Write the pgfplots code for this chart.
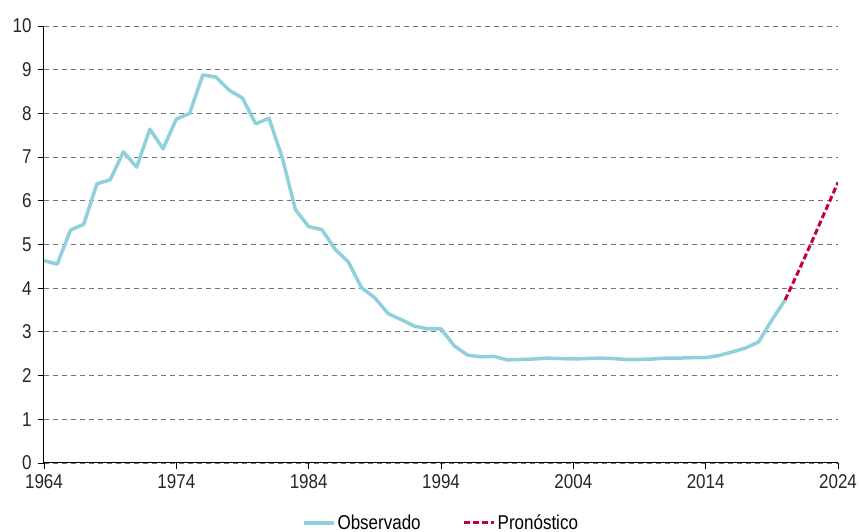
\documentclass[border=0pt]{standalone}
\usepackage{pgfplots}
\pgfplotsset{compat=1.18}
\usetikzlibrary{calc}
\usepackage{fontspec}
\setmainfont[FakeStretch=0.85]{Liberation Sans}
\definecolor{obs}{RGB}{143,209,219}
\definecolor{pron}{RGB}{196,0,58}
\newcommand\lbl{\fontsize{20bp}{23bp}\selectfont}
\begin{document}
\begin{tikzpicture}
\begin{axis}[
  scale only axis, width=794bp, height=437bp,
  xmin=1964, xmax=2024, ymin=0, ymax=10,
  xtick={1964,1974,...,2024}, ytick={0,1,...,10},
  axis x line=bottom, axis y line=left,
  axis line style={-, black, line width=1bp},
  tick align=outside, major tick length=6bp,
  tick style={black, line width=0.9bp},
  ymajorgrids,
  major grid style={gray!90!black, line width=0.9bp, dash pattern=on 5bp off 4bp},
  /pgf/number format/1000 sep={},
  /pgf/number format/assume math mode=true,
  ticklabel style={font=\lbl, text=black!85},
  yticklabel style={xshift=-3bp},
  xticklabel style={yshift=-2bp},
  legend columns=2,
  legend style={draw=none, at={(0.5,-0.137)}, anchor=center, font=\lbl,
    /tikz/every even column/.append style={column sep=40bp}},
  legend image code/.code={\draw[#1] (0bp,0bp) -- (30bp,0bp);},
]
\addplot[obs, line width=3.5bp, line join=round] coordinates {
(1964,4.63)(1965,4.55)(1966,5.33)(1967,5.46)(1968,6.39)(1969,6.48)(1970,7.12)
(1971,6.77)(1972,7.64)(1973,7.19)(1974,7.87)(1975,8.00)(1976,8.88)(1977,8.83)
(1978,8.53)(1979,8.35)(1980,7.76)(1981,7.89)(1982,6.99)(1983,5.80)(1984,5.41)
(1985,5.34)(1986,4.89)(1987,4.60)(1988,4.01)(1989,3.78)(1990,3.42)(1991,3.28)
(1992,3.13)(1993,3.07)(1994,3.07)(1995,2.68)(1996,2.47)(1997,2.43)(1998,2.44)
(1999,2.36)(2000,2.37)(2001,2.38)(2002,2.40)(2003,2.39)(2004,2.38)(2005,2.39)
(2006,2.40)(2007,2.39)(2008,2.37)(2009,2.37)(2010,2.38)(2011,2.40)(2012,2.40)
(2013,2.41)(2014,2.41)(2015,2.46)(2016,2.54)(2017,2.63)(2018,2.77)(2019,3.27)
(2020,3.73)};
\addlegendentry{Observado}
\addplot[pron, line width=3bp, dash pattern=on 6bp off 3bp] coordinates {
(2020,3.73)(2021,4.38)(2022,5.05)(2023,5.74)(2024,6.42)};
\addlegendentry{Pronóstico}
\end{axis}
\pgfresetboundingbox
\path[use as bounding box] ($(current axis.south west)+(-44bp,-69bp)$) rectangle ($(current axis.north east)+(21bp,26bp)$);
\end{tikzpicture}
\end{document}
